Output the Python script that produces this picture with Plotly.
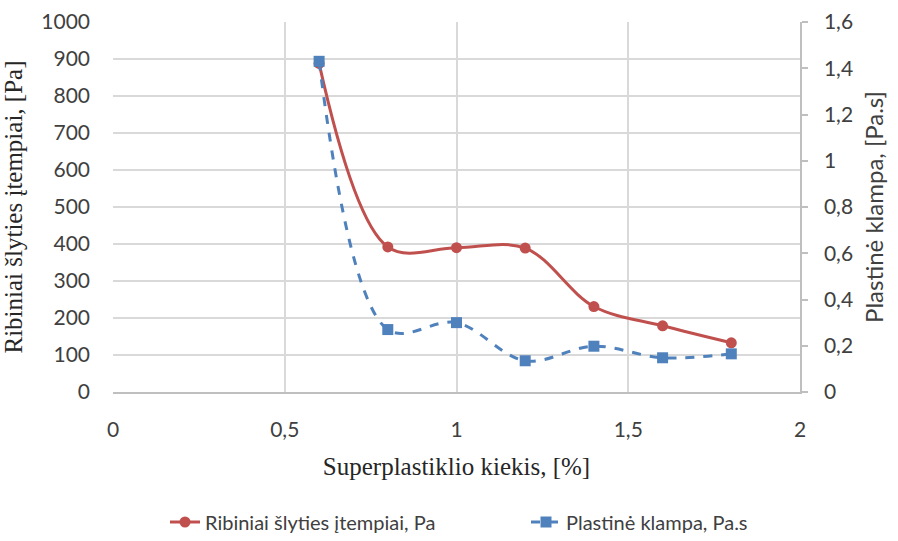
import plotly.graph_objects as go

# Superplasticizer content, %
kiekis = [0.6, 0.8, 1.0, 1.2, 1.4, 1.6, 1.8]
# Yield shear stress, Pa
itempiai = [888, 392, 390, 389, 231, 179, 133]
# Plastic viscosity, Pa.s
klampa = [1.43, 0.27, 0.30, 0.135, 0.198, 0.148, 0.165]

x_ticks = [0, 0.5, 1, 1.5, 2]
x_labels = ["0", "0,5", "1", "1,5", "2"]
y1_ticks = list(range(0, 1001, 100))
y2_ticks = [0, 0.2, 0.4, 0.6, 0.8, 1.0, 1.2, 1.4, 1.6]
y2_labels = ["0", "0,2", "0,4", "0,6", "0,8", "1", "1,2", "1,4", "1,6"]

red = "#c0504d"
blue = "#4f81bd"
grid = "#d9d9d9"
sans = "Lato"
tick_font = dict(family=sans, size=21, color="#404040")
serif = dict(family="Liberation Serif", size=25, color="#262626")
legend_font = dict(family=sans, size=20, color="#404040")

fig = go.Figure()
fig.add_trace(go.Scatter(
    x=kiekis, y=itempiai, name="Ribiniai šlyties įtempiai, Pa",
    mode="lines+markers", line=dict(color=red, width=3, shape="spline", smoothing=1),
    marker=dict(symbol="circle", size=11, color=red), yaxis="y", legend="legend"))
fig.add_trace(go.Scatter(
    x=kiekis, y=klampa, name="Plastinė klampa, Pa.s",
    mode="lines+markers",
    line=dict(color=blue, width=3, dash="dash", shape="spline", smoothing=1),
    marker=dict(symbol="square", size=11, color=blue), yaxis="y2", legend="legend2"))

fig.update_layout(
    width=898, height=541,
    margin=dict(l=113, r=98, t=22, b=149, autoexpand=False),
    paper_bgcolor="white", plot_bgcolor="white",
    showlegend=True,
    legend=dict(orientation="h", x=165 / 898, xanchor="left", xref="container",
                y=(541 - 522) / 541, yref="container", yanchor="middle",
                font=legend_font),
    legend2=dict(orientation="h", x=526 / 898, xanchor="left", xref="container",
                 y=(541 - 522) / 541, yref="container", yanchor="middle",
                 font=legend_font),
    xaxis=dict(range=[0, 2], tickvals=x_ticks, ticktext=x_labels, showgrid=True,
               gridcolor=grid, gridwidth=1.5, zeroline=False, showline=True,
               linecolor="#bfbfbf", linewidth=1.5, ticks="", tickfont=tick_font,
               ticklabelstandoff=18, automargin=False,
               title=dict(text="Superplastiklio kiekis, [%]", font=serif, standoff=18)),
    yaxis=dict(range=[0, 1000], tickvals=y1_ticks, showgrid=True, gridcolor=grid,
               gridwidth=1.5, zeroline=False, showline=False, ticks="", tickfont=tick_font,
               ticklabelstandoff=22, automargin=False,
               title=dict(text="Ribiniai šlyties įtempiai, [Pa]", font=serif, standoff=16)),
    yaxis2=dict(range=[0, 1.6], tickvals=y2_ticks, ticktext=y2_labels, overlaying="y",
                side="right", showgrid=False, zeroline=False, showline=True,
                linecolor="#bfbfbf", linewidth=1.5, ticks="outside", ticklen=6,
                tickcolor="#bfbfbf", tickwidth=1.5, tickfont=tick_font, ticklabelstandoff=12,
                automargin=False,
                title=dict(text="Plastinė klampa, [Pa.s]",
                           font=dict(family=sans, size=24, color="#404040"),
                           standoff=14)),
)

fig.write_html("out.html")
